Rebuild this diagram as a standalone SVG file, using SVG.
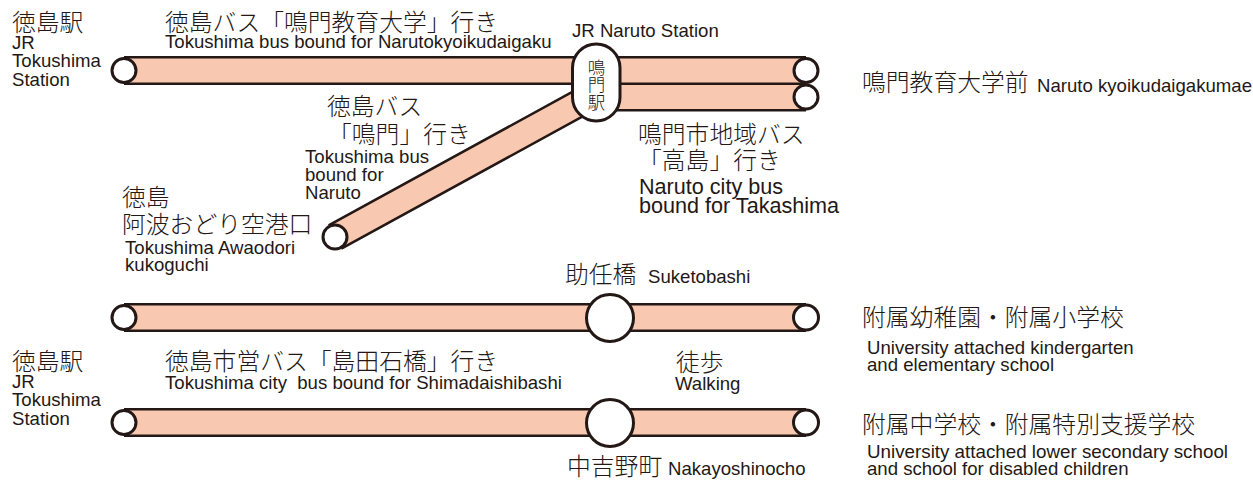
<svg xmlns="http://www.w3.org/2000/svg" width="1253" height="482" viewBox="0 0 1253 482">
<style>
.jp{font-family:"Noto Sans CJK JP","Noto Sans",sans-serif;font-size:23.8px;font-weight:300;fill:#231815}
.en{font-family:"Liberation Sans",Arial,sans-serif;font-size:18.6px;fill:#231815}
.enl{font-family:"Liberation Sans",Arial,sans-serif;font-size:21.6px;fill:#231815}
.cap{font-family:"Noto Sans CJK JP",sans-serif;font-size:17.5px;font-weight:300;fill:#231815;text-anchor:middle}
.edge{stroke:#231815;stroke-width:29;fill:none;stroke-linecap:butt}
.fillb{stroke:#f9c8b0;stroke-width:24;fill:none;stroke-linecap:butt}
.st{fill:#fff;stroke:#231815;stroke-width:3}
</style>
<rect width="1253" height="482" fill="#fff"/>
<g id="connectors">
<path class="edge" d="M124 70.5H596M596 70.5H806M596 97H806M335 237L596 94M124 317.5H806M124 422.5H806"/>
<path class="fillb" d="M124 70.5H596M596 70.5H806M596 97H806M335 237L596 94M124 317.5H806M124 422.5H806"/>
</g>
<g id="tokushima-st-1">
<circle class="st" cx="124" cy="70.5" r="12"/>
<text class="jp" x="12" y="31">徳島駅</text>
<text class="en" x="12" y="49">JR</text>
<text class="en" x="12" y="67">Tokushima</text>
<text class="en" x="12" y="86">Station</text>
</g>
<g id="route-label-1">
<text class="jp" x="165" y="31">徳島バス「鳴門教育大学」行き</text>
<text class="en" x="165" y="48">Tokushima bus bound for Narutokyoikudaigaku</text>
</g>
<g id="naruto-st">
<rect class="st" x="572.5" y="44" width="47.5" height="77" rx="23.75"/>
<text class="cap" x="596.5" y="74">鳴</text>
<text class="cap" x="596.5" y="91">門</text>
<text class="cap" x="596.5" y="109">駅</text>
<text class="en" x="572" y="37">JR Naruto Station</text>
</g>
<g id="naruto-kyoiku">
<circle class="st" cx="806" cy="70.5" r="12"/>
<circle class="st" cx="806" cy="97" r="12"/>
<text class="jp" x="862" y="91">鳴門教育大学前</text>
<text class="en" x="1037" y="92">Naruto kyoikudaigakumae</text>
</g>
<g id="route-label-2">
<text class="jp" x="327" y="115">徳島バス</text>
<text class="jp" x="328" y="143">「鳴門」行き</text>
<text class="en" x="305" y="163">Tokushima bus</text>
<text class="en" x="305" y="181">bound for</text>
<text class="en" x="305" y="199">Naruto</text>
</g>
<g id="route-label-3">
<text class="jp" x="638" y="143">鳴門市地域バス</text>
<text class="jp" x="638" y="169">「高島」行き</text>
<text class="enl" x="639" y="194">Naruto city bus</text>
<text class="enl" x="639" y="213">bound for Takashima</text>
</g>
<g id="airport">
<circle class="st" cx="335" cy="237" r="12"/>
<text class="jp" x="122" y="206">徳島</text>
<text class="jp" x="122" y="233">阿波おどり空港口</text>
<text class="en" x="125" y="254">Tokushima Awaodori</text>
<text class="en" x="125" y="271">kukoguchi</text>
</g>
<g id="row2-left">
<circle class="st" cx="124" cy="317.5" r="12"/>
</g>
<g id="suketobashi">
<circle class="st" cx="610" cy="318" r="23.5"/>
<text class="jp" x="565" y="283">助任橋</text>
<text class="en" x="648" y="283">Suketobashi</text>
</g>
<g id="fuzoku-elem">
<circle class="st" cx="806" cy="317.5" r="12.5"/>
<text class="jp" x="862" y="326">附属幼稚園・附属小学校</text>
<text class="en" x="867" y="354">University attached kindergarten</text>
<text class="en" x="867" y="371">and elementary school</text>
</g>
<g id="tokushima-st-2">
<circle class="st" cx="124" cy="422.5" r="12"/>
<text class="jp" x="12" y="370">徳島駅</text>
<text class="en" x="12" y="388">JR</text>
<text class="en" x="12" y="406">Tokushima</text>
<text class="en" x="12" y="425">Station</text>
</g>
<g id="route-label-4">
<text class="jp" x="165" y="370">徳島市営バス「島田石橋」行き</text>
<text class="en" x="165" y="389" xml:space="preserve">Tokushima city  bus bound for Shimadaishibashi</text>
</g>
<g id="walking">
<text class="jp" x="676" y="371">徒歩</text>
<text class="en" x="675" y="390">Walking</text>
</g>
<g id="nakayoshinocho">
<circle class="st" cx="610" cy="423" r="23.5"/>
<text class="jp" x="567" y="475">中吉野町</text>
<text class="en" x="668" y="475">Nakayoshinocho</text>
</g>
<g id="fuzoku-junior">
<circle class="st" cx="806" cy="422.5" r="12.5"/>
<text class="jp" x="862" y="433">附属中学校・附属特別支援学校</text>
<text class="en" x="867" y="458" textLength="361" lengthAdjust="spacingAndGlyphs">University attached lower secondary school</text>
<text class="en" x="867" y="475">and school for disabled children</text>
</g>
</svg>
